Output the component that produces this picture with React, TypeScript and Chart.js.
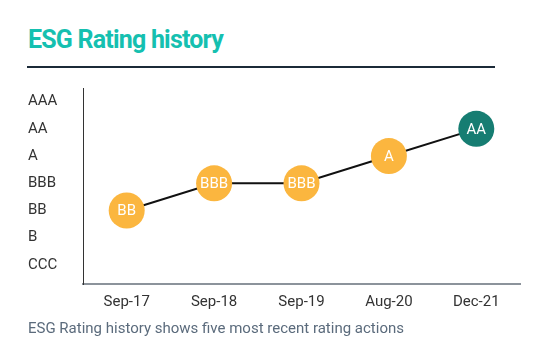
import React, { useEffect, useRef } from "react";
import { Chart, registerables } from "chart.js";

Chart.register(...registerables);

const categories = ["Sep-17", "Sep-18", "Sep-19", "Aug-20", "Dec-21"];
const ratingScale = ["CCC", "B", "BB", "BBB", "A", "AA", "AAA"];
const ratings = ["BB", "BBB", "BBB", "A", "AA"];
const pointColors = ["#fbb63f", "#fbb63f", "#fbb63f", "#fbb63f", "#167d72"];

const FONT = "Roboto";

const pointLabelPlugin = {
  id: "pointLabels",
  afterDatasetsDraw(chart: any) {
    const ctx = chart.ctx;
    const meta = chart.getDatasetMeta(0);
    ctx.save();
    ctx.fillStyle = "#ffffff";
    ctx.font = `15px ${FONT}`;
    ctx.textAlign = "center";
    ctx.textBaseline = "middle";
    meta.data.forEach((el: any, i: number) => {
      ctx.fillText(ratings[i], el.x, el.y + 1);
    });
    ctx.restore();
  },
};

export default function App() {
  const ref = useRef<HTMLCanvasElement>(null);
  useEffect(() => {
    if (!ref.current) return;
    const values = ratings.map((r) => ratingScale.indexOf(r) + 1);
    const chart = new Chart(ref.current, {
      type: "line",
      data: {
        labels: categories,
        datasets: [
          {
            data: values,
            borderColor: "#111111",
            borderWidth: 2,
            pointRadius: 18,
            pointHoverRadius: 18,
            pointBackgroundColor: pointColors,
            pointBorderWidth: 0,
            tension: 0,
          },
        ],
      },
      options: {
        animation: false,
        responsive: false,
        maintainAspectRatio: false,
        layout: { padding: { left: 28, right: 28, top: 7, bottom: 0 } },
        plugins: {
          legend: { display: false },
          tooltip: { enabled: false },
          title: { display: false },
        },
        scales: {
          x: {
            offset: true,
            grid: { display: false },
            border: { display: true, color: "#8c939b", width: 2 },
            ticks: { color: "#333333", font: { family: FONT, size: 15 }, padding: 1 },
            afterFit: (s: any) => {
              s.height = 36;
            },
          },
          y: {
            min: 0.3,
            max: 7.5,
            grid: { display: false },
            border: { display: true, color: "#333333", width: 1 },
            afterBuildTicks: (s: any) => {
              s.ticks = ratingScale.map((_, i) => ({ value: i + 1 }));
            },
            ticks: {
              crossAlign: "far",
              color: "#333333",
              font: { family: FONT, size: 15 },
              callback: (v: any) => ratingScale[Math.round(Number(v)) - 1] ?? "",
            },
            afterFit: (s: any) => {
              s.width = 55;
            },
          },
        },
      },
      plugins: [pointLabelPlugin],
    });
    return () => chart.destroy();
  }, []);

  return (
    <div style={{ position: "fixed", left: 0, top: 0, width: 548, height: 355, background: "#fff", fontFamily: FONT }}>
      <div
        style={{
          position: "absolute",
          left: 28,
          top: 27,
          fontSize: 25,
          lineHeight: "25px",
          fontWeight: 700,
          letterSpacing: "-0.8px",
          color: "#15c0b0",
          whiteSpace: "nowrap",
        }}
      >
        ESG Rating history
      </div>
      <div style={{ position: "absolute", left: 27, top: 66, width: 468, height: 2, background: "#1b2a38" }} />
      <canvas ref={ref} width={548} height={250} style={{ position: "absolute", left: 0, top: 70, width: 548, height: 250 }} />
      <div
        style={{
          position: "absolute",
          left: 28,
          top: 319,
          fontSize: 15,
          lineHeight: "18px",
          color: "#5b6b7c",
          whiteSpace: "nowrap",
        }}
      >
        ESG Rating history shows five most recent rating actions
      </div>
    </div>
  );
}
